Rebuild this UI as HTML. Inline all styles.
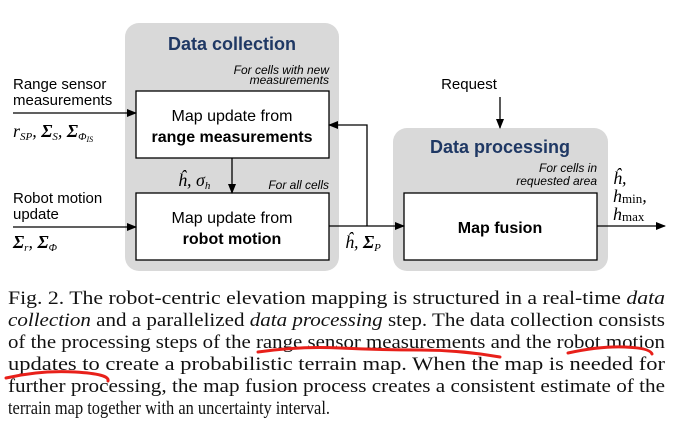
<!DOCTYPE html>
<html><head><meta charset="utf-8"><style>
body{margin:0;background:#fff;width:677px;height:437px;overflow:hidden}
svg{display:block}
.s{font-family:"Liberation Sans",Arial,sans-serif}
.m{font-family:"Liberation Serif","Times New Roman",serif;font-style:italic}
.c{font-family:"Liberation Serif","Times New Roman",Times,serif;font-size:19px;fill:#111}
</style></head><body>
<svg width="677" height="437" viewBox="0 0 677 437">
<defs><marker id="a" markerWidth="10" markerHeight="8" refX="9" refY="4" orient="auto" markerUnits="userSpaceOnUse"><path d="M0,0L10,4L0,8z" fill="#000"/></marker></defs>
<rect x="125" y="23" width="214" height="248" rx="14" fill="#d9d9d9"/>
<rect x="393" y="128" width="215" height="143" rx="14" fill="#d9d9d9"/>
<rect x="136" y="91" width="193" height="67" fill="#fff" stroke="#000" stroke-width="1.3"/>
<rect x="136" y="193" width="193" height="67" fill="#fff" stroke="#000" stroke-width="1.3"/>
<rect x="404" y="193" width="193" height="67" fill="#fff" stroke="#000" stroke-width="1.3"/>
<g stroke="#000" stroke-width="1.3" fill="none">
<line x1="13" y1="113" x2="136" y2="113" marker-end="url(#a)"/>
<line x1="13" y1="227" x2="136" y2="227" marker-end="url(#a)"/>
<line x1="232" y1="158" x2="232" y2="193" marker-end="url(#a)"/>
<line x1="329" y1="226" x2="404" y2="226" marker-end="url(#a)"/>
<polyline points="367,226 367,125 329,125" marker-end="url(#a)"/>
<line x1="500" y1="97" x2="500" y2="128" marker-end="url(#a)"/>
<line x1="597" y1="226" x2="665" y2="226" marker-end="url(#a)"/>
</g>
<g class="s">
<text x="232" y="50" text-anchor="middle" font-size="18" font-weight="bold" fill="#1f3864">Data collection</text>
<text x="329" y="74" text-anchor="end" font-size="12" font-style="italic">For cells with new</text>
<text x="329" y="84" text-anchor="end" font-size="12" font-style="italic">measurements</text>
<text x="232" y="121" text-anchor="middle" font-size="16">Map update from</text>
<text x="232" y="142" text-anchor="middle" font-size="16" font-weight="bold">range measurements</text>
<text x="329" y="189" text-anchor="end" font-size="12" font-style="italic">For all cells</text>
<text x="232" y="223" text-anchor="middle" font-size="16">Map update from</text>
<text x="232" y="244" text-anchor="middle" font-size="16" font-weight="bold">robot motion</text>
<text x="13" y="89" font-size="15">Range sensor</text>
<text x="13" y="105" font-size="15">measurements</text>
<text x="13" y="203" font-size="15">Robot motion</text>
<text x="13" y="219" font-size="15">update</text>
<text x="500" y="153" text-anchor="middle" font-size="18" font-weight="bold" fill="#1f3864">Data processing</text>
<text x="597" y="172" text-anchor="end" font-size="12" font-style="italic">For cells in</text>
<text x="597" y="185" text-anchor="end" font-size="12" font-style="italic">requested area</text>
<text x="500" y="233" text-anchor="middle" font-size="16" font-weight="bold">Map fusion</text>
<text x="469" y="89" text-anchor="middle" font-size="15">Request</text>
</g>
<g class="m" font-size="18">
<text x="13" y="137">r<tspan font-size="11" dy="3">SP</tspan><tspan dy="-3">, </tspan><tspan font-weight="bold">Σ</tspan><tspan font-size="11" dy="3">S</tspan><tspan dy="-3">, </tspan><tspan font-weight="bold">Σ</tspan><tspan font-size="11" dy="3">Φ</tspan><tspan font-size="8" dy="2">IS</tspan></text>
<text x="13" y="248"><tspan font-weight="bold">Σ</tspan><tspan font-size="11" dy="3">r</tspan><tspan dy="-3">, </tspan><tspan font-weight="bold">Σ</tspan><tspan font-size="11" dy="3">Φ</tspan></text>
<text x="178" y="186">ĥ, σ<tspan font-size="11" dy="3">h</tspan></text>
<text x="345" y="248">ĥ, <tspan font-weight="bold">Σ</tspan><tspan font-size="11" dy="3">P</tspan></text>
<text x="613" y="184">ĥ,</text>
<text x="613" y="202">h<tspan font-size="13" font-style="normal" dy="1">min</tspan><tspan dy="-1">,</tspan></text>
<text x="613" y="220">h<tspan font-size="13" font-style="normal" dy="1">max</tspan></text>
</g>
<g class="c">
<text x="8" y="304" textLength="657" lengthAdjust="spacingAndGlyphs">Fig. 2.  The robot-centric elevation mapping is structured in a real-time <tspan font-style="italic">data</tspan></text>
<text x="8" y="326" textLength="657" lengthAdjust="spacingAndGlyphs"><tspan font-style="italic">collection</tspan> and a parallelized <tspan font-style="italic">data processing</tspan> step. The data collection consists</text>
<text x="8" y="348" textLength="657" lengthAdjust="spacingAndGlyphs">of the processing steps of the range sensor measurements and the robot motion</text>
<text x="8" y="370" textLength="657" lengthAdjust="spacingAndGlyphs">updates to create a probabilistic terrain map. When the map is needed for</text>
<text x="8" y="392" textLength="657" lengthAdjust="spacingAndGlyphs">further processing, the map fusion process creates a consistent estimate of the</text>
<text x="8" y="414" textLength="322" lengthAdjust="spacingAndGlyphs">terrain map together with an uncertainty interval.</text>
</g>
<g stroke="#e8201a" stroke-width="3" fill="none" stroke-linecap="round">
<path d="M258,352 Q300,346 340,348 T420,350 T500,357"/>
<path d="M568,353 Q600,346 625,347 T652,354"/>
<path d="M6,378 Q40,370 75,372 T108,381"/>
</g>
</svg>
</body></html>
